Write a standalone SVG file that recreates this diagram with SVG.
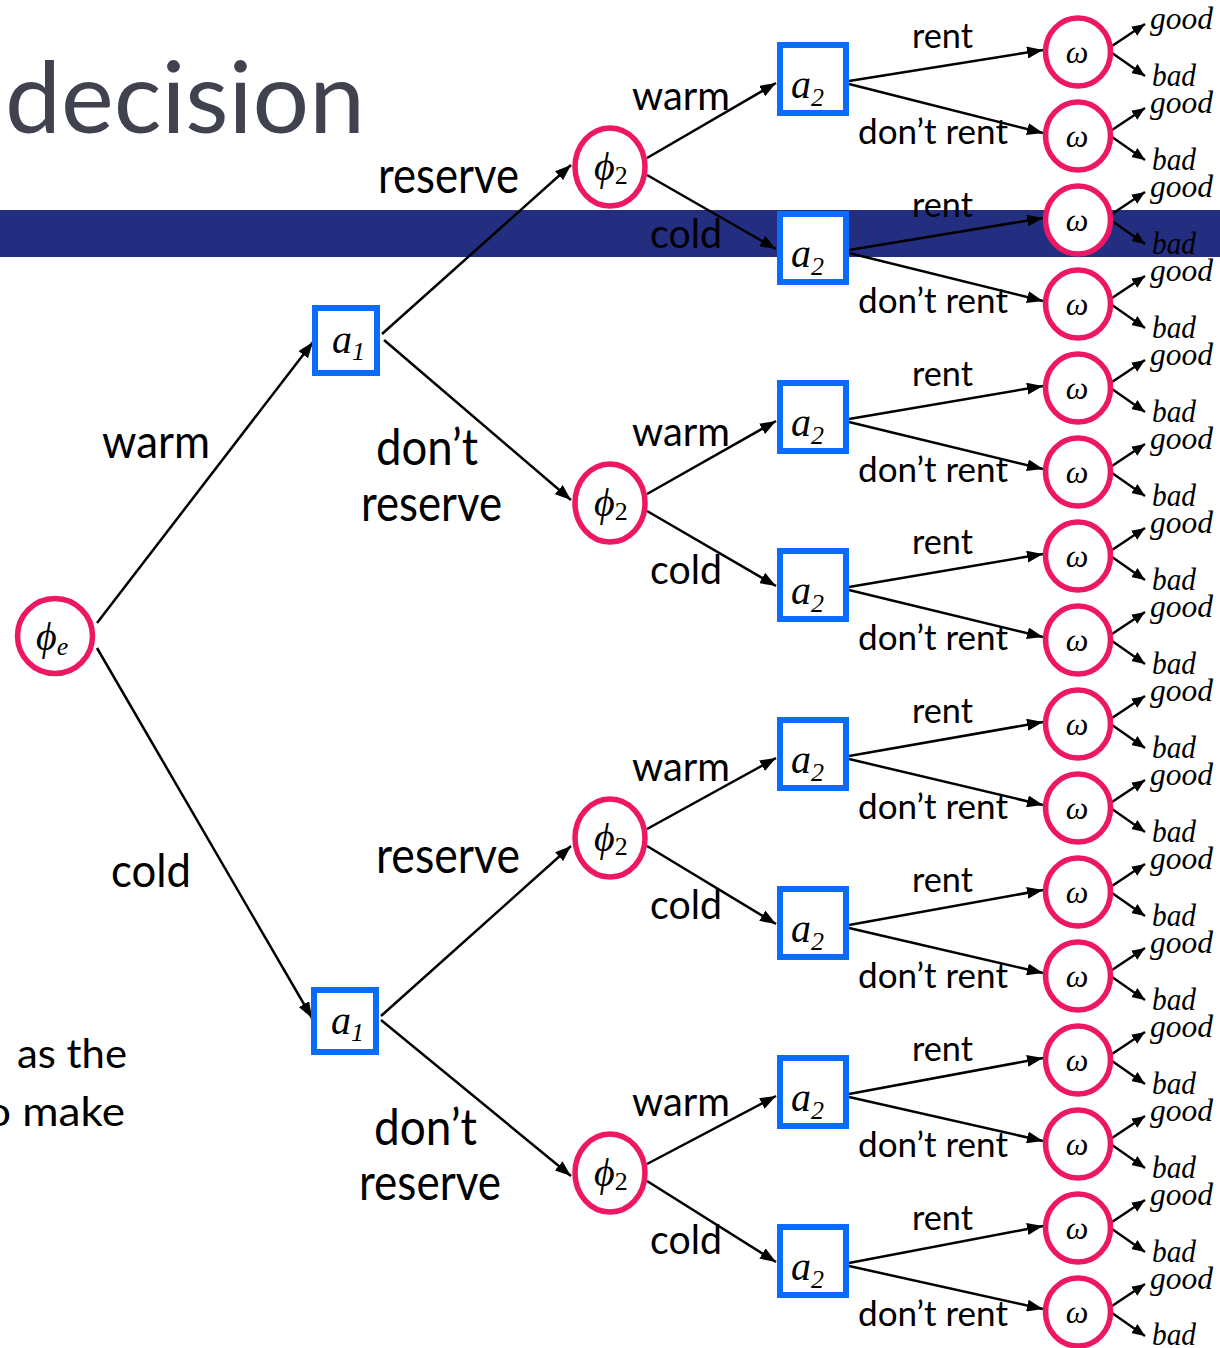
<svg xmlns="http://www.w3.org/2000/svg" width="1220" height="1348" viewBox="0 0 1220 1348">
<style>
.lbl{font-family:Lato,"Open Sans","Liberation Sans",sans-serif;fill:#000}
.l1{font-size:34px}
.l2{font-size:40px}
.l3{font-size:50px}
.l4{font-size:46px}
.it{font-family:"Liberation Serif","DejaVu Serif",serif;font-style:italic;fill:#000}
.gb{font-size:31px}
.om{font-size:32px;text-anchor:middle}
.sym{font-size:40px}
.sub{font-size:26px}
.chance{fill:#fff;stroke:#EE1763;stroke-width:5.5}
.dec{fill:#fff;stroke:#0B6CFA;stroke-width:6}
.edge{fill:none;stroke:#000;stroke-width:2.5;marker-end:url(#arr)}
.sedge{fill:none;stroke:#000;stroke-width:2.4;marker-end:url(#arrS)}
.side{font-family:Lato,"Open Sans","Liberation Sans",sans-serif;font-size:40px;fill:#000}
</style>
<defs>
<marker id="arr" markerUnits="userSpaceOnUse" markerWidth="16" markerHeight="12" refX="16" refY="6" orient="auto"><path d="M0,0 L16,6 L0,12 z" fill="#000"/></marker>
<marker id="arrS" markerUnits="userSpaceOnUse" markerWidth="13" markerHeight="11" refX="13" refY="5.5" orient="auto"><path d="M0,0 L13,5.5 L0,11 z" fill="#000"/></marker>
</defs>
<rect width="1220" height="1348" fill="#fff"/>
<g id="band"><rect x="0" y="210" width="1220" height="47" fill="#232E80"/></g>
<g id="title"><text x="5" y="133" font-family="Lato,'Open Sans',sans-serif" font-size="98" fill="#41424F" textLength="360" lengthAdjust="spacingAndGlyphs">decision</text></g>
<g id="side-text">
<text class="side" x="17" y="1068" textLength="110" lengthAdjust="spacingAndGlyphs">as the</text>
<text class="side" x="-14" y="1126" textLength="139" lengthAdjust="spacingAndGlyphs">o make</text>
</g>
<g id="connectors">
<path class="edge" d="M97,623 L313,342"/>
<path class="edge" d="M97,648 L312,1018"/>
<path class="edge" d="M382,334 L571,165"/>
<path class="edge" d="M384,340 L571,500"/>
<path class="edge" d="M381,1016 L571,846"/>
<path class="edge" d="M381,1020 L571,1176"/>
<path class="edge" d="M647,158 L776,83"/>
<path class="edge" d="M647,175 L776,249"/>
<path class="edge" d="M647,494 L776,421"/>
<path class="edge" d="M647,511 L776,586"/>
<path class="edge" d="M647,829 L776,758"/>
<path class="edge" d="M647,846 L776,924"/>
<path class="edge" d="M647,1164 L776,1096"/>
<path class="edge" d="M647,1181 L776,1262"/>
<path class="edge" d="M849,81 L1043,50"/>
<path class="edge" d="M849,84 L1043,133"/>
<path class="edge" d="M849,250 L1043,218"/>
<path class="edge" d="M849,253 L1043,301"/>
<path class="edge" d="M849,419 L1043,386"/>
<path class="edge" d="M849,422 L1043,469"/>
<path class="edge" d="M849,587 L1043,554"/>
<path class="edge" d="M849,590 L1043,637"/>
<path class="edge" d="M849,756 L1043,722"/>
<path class="edge" d="M849,759 L1043,805"/>
<path class="edge" d="M849,925 L1043,890"/>
<path class="edge" d="M849,928 L1043,973"/>
<path class="edge" d="M849,1094 L1043,1058"/>
<path class="edge" d="M849,1097 L1043,1141"/>
<path class="edge" d="M849,1263 L1043,1226"/>
<path class="edge" d="M849,1266 L1043,1309"/>
<path class="sedge" d="M1112,46 L1145,24"/><path class="sedge" d="M1112,53 L1145,76"/>
<path class="sedge" d="M1112,130 L1145,108"/><path class="sedge" d="M1112,137 L1145,160"/>
<path class="sedge" d="M1112,214 L1145,192"/><path class="sedge" d="M1112,221 L1145,244"/>
<path class="sedge" d="M1112,298 L1145,276"/><path class="sedge" d="M1112,305 L1145,328"/>
<path class="sedge" d="M1112,382 L1145,360"/><path class="sedge" d="M1112,389 L1145,412"/>
<path class="sedge" d="M1112,466 L1145,444"/><path class="sedge" d="M1112,473 L1145,496"/>
<path class="sedge" d="M1112,550 L1145,528"/><path class="sedge" d="M1112,557 L1145,580"/>
<path class="sedge" d="M1112,634 L1145,612"/><path class="sedge" d="M1112,641 L1145,664"/>
<path class="sedge" d="M1112,718 L1145,696"/><path class="sedge" d="M1112,725 L1145,748"/>
<path class="sedge" d="M1112,802 L1145,780"/><path class="sedge" d="M1112,809 L1145,832"/>
<path class="sedge" d="M1112,886 L1145,864"/><path class="sedge" d="M1112,893 L1145,916"/>
<path class="sedge" d="M1112,970 L1145,948"/><path class="sedge" d="M1112,977 L1145,1000"/>
<path class="sedge" d="M1112,1054 L1145,1032"/><path class="sedge" d="M1112,1061 L1145,1084"/>
<path class="sedge" d="M1112,1138 L1145,1116"/><path class="sedge" d="M1112,1145 L1145,1168"/>
<path class="sedge" d="M1112,1222 L1145,1200"/><path class="sedge" d="M1112,1229 L1145,1252"/>
<path class="sedge" d="M1112,1306 L1145,1284"/><path class="sedge" d="M1112,1313 L1145,1336"/>
</g>
<g id="edge-labels">
<text class="lbl l4" x="102" y="458" textLength="108" lengthAdjust="spacingAndGlyphs">warm</text>
<text class="lbl l4" x="111" y="887" textLength="80" lengthAdjust="spacingAndGlyphs">cold</text>
<text class="lbl l3" x="378" y="193" textLength="141" lengthAdjust="spacingAndGlyphs">reserve</text>
<text class="lbl l3" x="376" y="465" textLength="102" lengthAdjust="spacingAndGlyphs">don’t</text>
<text class="lbl l3" x="361" y="521" textLength="141" lengthAdjust="spacingAndGlyphs">reserve</text>
<text class="lbl l3" x="376" y="873" textLength="144" lengthAdjust="spacingAndGlyphs">reserve</text>
<text class="lbl l3" x="374" y="1145" textLength="103" lengthAdjust="spacingAndGlyphs">don’t</text>
<text class="lbl l3" x="359" y="1200" textLength="142" lengthAdjust="spacingAndGlyphs">reserve</text>
<text class="lbl l2" x="632" y="110" textLength="98" lengthAdjust="spacingAndGlyphs">warm</text>
<text class="lbl l2" x="650" y="248" textLength="72" lengthAdjust="spacingAndGlyphs">cold</text>
<text class="lbl l2" x="632" y="446" textLength="98" lengthAdjust="spacingAndGlyphs">warm</text>
<text class="lbl l2" x="650" y="584" textLength="72" lengthAdjust="spacingAndGlyphs">cold</text>
<text class="lbl l2" x="632" y="781" textLength="98" lengthAdjust="spacingAndGlyphs">warm</text>
<text class="lbl l2" x="650" y="919" textLength="72" lengthAdjust="spacingAndGlyphs">cold</text>
<text class="lbl l2" x="632" y="1116" textLength="98" lengthAdjust="spacingAndGlyphs">warm</text>
<text class="lbl l2" x="650" y="1254" textLength="72" lengthAdjust="spacingAndGlyphs">cold</text>
<text class="lbl l1" x="912" y="48" textLength="61" lengthAdjust="spacingAndGlyphs">rent</text>
<text class="lbl l1" x="858" y="144" textLength="150" lengthAdjust="spacingAndGlyphs">don’t rent</text>
<text class="lbl l1" x="912" y="217" textLength="61" lengthAdjust="spacingAndGlyphs">rent</text>
<text class="lbl l1" x="858" y="313" textLength="150" lengthAdjust="spacingAndGlyphs">don’t rent</text>
<text class="lbl l1" x="912" y="386" textLength="61" lengthAdjust="spacingAndGlyphs">rent</text>
<text class="lbl l1" x="858" y="482" textLength="150" lengthAdjust="spacingAndGlyphs">don’t rent</text>
<text class="lbl l1" x="912" y="554" textLength="61" lengthAdjust="spacingAndGlyphs">rent</text>
<text class="lbl l1" x="858" y="650" textLength="150" lengthAdjust="spacingAndGlyphs">don’t rent</text>
<text class="lbl l1" x="912" y="723" textLength="61" lengthAdjust="spacingAndGlyphs">rent</text>
<text class="lbl l1" x="858" y="819" textLength="150" lengthAdjust="spacingAndGlyphs">don’t rent</text>
<text class="lbl l1" x="912" y="892" textLength="61" lengthAdjust="spacingAndGlyphs">rent</text>
<text class="lbl l1" x="858" y="988" textLength="150" lengthAdjust="spacingAndGlyphs">don’t rent</text>
<text class="lbl l1" x="912" y="1061" textLength="61" lengthAdjust="spacingAndGlyphs">rent</text>
<text class="lbl l1" x="858" y="1157" textLength="150" lengthAdjust="spacingAndGlyphs">don’t rent</text>
<text class="lbl l1" x="912" y="1230" textLength="61" lengthAdjust="spacingAndGlyphs">rent</text>
<text class="lbl l1" x="858" y="1326" textLength="150" lengthAdjust="spacingAndGlyphs">don’t rent</text>
</g>
<g id="outcome-labels">
<text class="it gb" x="1150" y="29" textLength="63" lengthAdjust="spacingAndGlyphs">good</text><text class="it gb" x="1152" y="86" textLength="44" lengthAdjust="spacingAndGlyphs">bad</text>
<text class="it gb" x="1150" y="113" textLength="63" lengthAdjust="spacingAndGlyphs">good</text><text class="it gb" x="1152" y="170" textLength="44" lengthAdjust="spacingAndGlyphs">bad</text>
<text class="it gb" x="1150" y="197" textLength="63" lengthAdjust="spacingAndGlyphs">good</text><text class="it gb" x="1152" y="254" textLength="44" lengthAdjust="spacingAndGlyphs">bad</text>
<text class="it gb" x="1150" y="281" textLength="63" lengthAdjust="spacingAndGlyphs">good</text><text class="it gb" x="1152" y="338" textLength="44" lengthAdjust="spacingAndGlyphs">bad</text>
<text class="it gb" x="1150" y="365" textLength="63" lengthAdjust="spacingAndGlyphs">good</text><text class="it gb" x="1152" y="422" textLength="44" lengthAdjust="spacingAndGlyphs">bad</text>
<text class="it gb" x="1150" y="449" textLength="63" lengthAdjust="spacingAndGlyphs">good</text><text class="it gb" x="1152" y="506" textLength="44" lengthAdjust="spacingAndGlyphs">bad</text>
<text class="it gb" x="1150" y="533" textLength="63" lengthAdjust="spacingAndGlyphs">good</text><text class="it gb" x="1152" y="590" textLength="44" lengthAdjust="spacingAndGlyphs">bad</text>
<text class="it gb" x="1150" y="617" textLength="63" lengthAdjust="spacingAndGlyphs">good</text><text class="it gb" x="1152" y="674" textLength="44" lengthAdjust="spacingAndGlyphs">bad</text>
<text class="it gb" x="1150" y="701" textLength="63" lengthAdjust="spacingAndGlyphs">good</text><text class="it gb" x="1152" y="758" textLength="44" lengthAdjust="spacingAndGlyphs">bad</text>
<text class="it gb" x="1150" y="785" textLength="63" lengthAdjust="spacingAndGlyphs">good</text><text class="it gb" x="1152" y="842" textLength="44" lengthAdjust="spacingAndGlyphs">bad</text>
<text class="it gb" x="1150" y="869" textLength="63" lengthAdjust="spacingAndGlyphs">good</text><text class="it gb" x="1152" y="926" textLength="44" lengthAdjust="spacingAndGlyphs">bad</text>
<text class="it gb" x="1150" y="953" textLength="63" lengthAdjust="spacingAndGlyphs">good</text><text class="it gb" x="1152" y="1010" textLength="44" lengthAdjust="spacingAndGlyphs">bad</text>
<text class="it gb" x="1150" y="1037" textLength="63" lengthAdjust="spacingAndGlyphs">good</text><text class="it gb" x="1152" y="1094" textLength="44" lengthAdjust="spacingAndGlyphs">bad</text>
<text class="it gb" x="1150" y="1121" textLength="63" lengthAdjust="spacingAndGlyphs">good</text><text class="it gb" x="1152" y="1178" textLength="44" lengthAdjust="spacingAndGlyphs">bad</text>
<text class="it gb" x="1150" y="1205" textLength="63" lengthAdjust="spacingAndGlyphs">good</text><text class="it gb" x="1152" y="1262" textLength="44" lengthAdjust="spacingAndGlyphs">bad</text>
<text class="it gb" x="1150" y="1289" textLength="63" lengthAdjust="spacingAndGlyphs">good</text><text class="it gb" x="1152" y="1345" textLength="44" lengthAdjust="spacingAndGlyphs">bad</text>
</g>
<g id="phi-e"><circle class="chance" cx="55" cy="636" r="37.5"/><text class="it sym" x="36" y="650">ϕ<tspan class="sub" dy="5">e</tspan></text></g>
<g id="a1-top"><rect class="dec" x="315" y="308" width="62" height="65"/><text class="it sym" x="332" y="353">a<tspan class="sub" dy="7">1</tspan></text></g>
<g id="a1-bottom"><rect class="dec" x="314" y="990" width="62" height="62"/><text class="it sym" x="331" y="1034">a<tspan class="sub" dy="7">1</tspan></text></g>
<g id="phi2-1"><ellipse class="chance" cx="610" cy="167" rx="35" ry="39"/><text class="it sym" x="594" y="180">ϕ<tspan class="sub" font-style="normal" dy="4">2</tspan></text></g>
<g id="phi2-2"><ellipse class="chance" cx="610" cy="503" rx="35" ry="39"/><text class="it sym" x="594" y="516">ϕ<tspan class="sub" font-style="normal" dy="4">2</tspan></text></g>
<g id="phi2-3"><ellipse class="chance" cx="610" cy="838" rx="35" ry="39"/><text class="it sym" x="594" y="851">ϕ<tspan class="sub" font-style="normal" dy="4">2</tspan></text></g>
<g id="phi2-4"><ellipse class="chance" cx="610" cy="1173" rx="35" ry="39"/><text class="it sym" x="594" y="1186">ϕ<tspan class="sub" font-style="normal" dy="4">2</tspan></text></g>
<g id="a2-1"><rect class="dec" x="780" y="45" width="66" height="68"/><text class="it sym" x="791" y="98">a<tspan class="sub" dy="8">2</tspan></text></g>
<g id="a2-2"><rect class="dec" x="780" y="214" width="66" height="68"/><text class="it sym" x="791" y="267">a<tspan class="sub" dy="8">2</tspan></text></g>
<g id="a2-3"><rect class="dec" x="780" y="383" width="66" height="68"/><text class="it sym" x="791" y="436">a<tspan class="sub" dy="8">2</tspan></text></g>
<g id="a2-4"><rect class="dec" x="780" y="551" width="66" height="68"/><text class="it sym" x="791" y="604">a<tspan class="sub" dy="8">2</tspan></text></g>
<g id="a2-5"><rect class="dec" x="780" y="720" width="66" height="68"/><text class="it sym" x="791" y="773">a<tspan class="sub" dy="8">2</tspan></text></g>
<g id="a2-6"><rect class="dec" x="780" y="889" width="66" height="68"/><text class="it sym" x="791" y="942">a<tspan class="sub" dy="8">2</tspan></text></g>
<g id="a2-7"><rect class="dec" x="780" y="1058" width="66" height="68"/><text class="it sym" x="791" y="1111">a<tspan class="sub" dy="8">2</tspan></text></g>
<g id="a2-8"><rect class="dec" x="780" y="1227" width="66" height="68"/><text class="it sym" x="791" y="1280">a<tspan class="sub" dy="8">2</tspan></text></g>
<g id="w1"><ellipse class="chance" cx="1078" cy="52" rx="32.5" ry="34"/><text class="it om" x="1077" y="63">ω</text></g>
<g id="w2"><ellipse class="chance" cx="1078" cy="136" rx="32.5" ry="34"/><text class="it om" x="1077" y="147">ω</text></g>
<g id="w3"><ellipse class="chance" cx="1078" cy="220" rx="32.5" ry="34"/><text class="it om" x="1077" y="231">ω</text></g>
<g id="w4"><ellipse class="chance" cx="1078" cy="304" rx="32.5" ry="34"/><text class="it om" x="1077" y="315">ω</text></g>
<g id="w5"><ellipse class="chance" cx="1078" cy="388" rx="32.5" ry="34"/><text class="it om" x="1077" y="399">ω</text></g>
<g id="w6"><ellipse class="chance" cx="1078" cy="472" rx="32.5" ry="34"/><text class="it om" x="1077" y="483">ω</text></g>
<g id="w7"><ellipse class="chance" cx="1078" cy="556" rx="32.5" ry="34"/><text class="it om" x="1077" y="567">ω</text></g>
<g id="w8"><ellipse class="chance" cx="1078" cy="640" rx="32.5" ry="34"/><text class="it om" x="1077" y="651">ω</text></g>
<g id="w9"><ellipse class="chance" cx="1078" cy="724" rx="32.5" ry="34"/><text class="it om" x="1077" y="735">ω</text></g>
<g id="w10"><ellipse class="chance" cx="1078" cy="808" rx="32.5" ry="34"/><text class="it om" x="1077" y="819">ω</text></g>
<g id="w11"><ellipse class="chance" cx="1078" cy="892" rx="32.5" ry="34"/><text class="it om" x="1077" y="903">ω</text></g>
<g id="w12"><ellipse class="chance" cx="1078" cy="976" rx="32.5" ry="34"/><text class="it om" x="1077" y="987">ω</text></g>
<g id="w13"><ellipse class="chance" cx="1078" cy="1060" rx="32.5" ry="34"/><text class="it om" x="1077" y="1071">ω</text></g>
<g id="w14"><ellipse class="chance" cx="1078" cy="1144" rx="32.5" ry="34"/><text class="it om" x="1077" y="1155">ω</text></g>
<g id="w15"><ellipse class="chance" cx="1078" cy="1228" rx="32.5" ry="34"/><text class="it om" x="1077" y="1239">ω</text></g>
<g id="w16"><ellipse class="chance" cx="1078" cy="1312" rx="32.5" ry="34"/><text class="it om" x="1077" y="1323">ω</text></g>
</svg>
